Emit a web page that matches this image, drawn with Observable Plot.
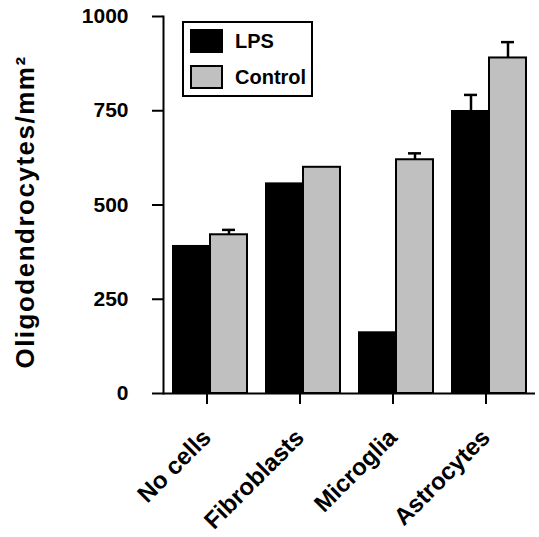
<!DOCTYPE html>
<html>
<head>
<meta charset="utf-8">
<script src="https://cdn.jsdelivr.net/npm/d3@7"></script>
<script src="https://cdn.jsdelivr.net/npm/@observablehq/plot@0.6"></script>
<style>
  html, body { margin: 0; padding: 0; background: #fff; }
  #wrap { position: relative; width: 539px; height: 537px; font-family: "Liberation Sans", Arial, sans-serif; }
  #legend { position: absolute; left: 182px; top: 21px; width: 127px; height: 72px; border: 2px solid #000; background: #fff;
            font-weight: bold; font-size: 20px; }
  .row { position: absolute; left: 6px; display: flex; align-items: center; }
  .sw { width: 29px; height: 20px; border: 2px solid #000; box-sizing: content-box; margin-right: 12px; }
</style>
</head>
<body>
<div id="wrap"></div>
<script>
const categories = ["No cells", "Fibroblasts", "Microglia", "Astrocytes"];
const series = ["LPS", "Control"];
const lpsValues = [390, 556, 161, 748];
const controlValues = [421, 600, 620, 890];
const lpsErrors = [0, 0, 0, 44];
const controlErrors = [13, 0, 17, 42];
const yTicks = [0, 250, 500, 750, 1000];
const colors = ["#000000", "#c0c0c0"];
const yLabel = "Oligodendrocytes/mm²";

const data = categories.flatMap((c, i) => [
  {category: c, series: "LPS", value: lpsValues[i], error: lpsErrors[i]},
  {category: c, series: "Control", value: controlValues[i], error: controlErrors[i]}
]);
const errData = data.filter(d => d.error > 0);

const plot = Plot.plot({
  width: 539,
  height: 537,
  marginLeft: 161,
  marginRight: 3,
  marginTop: 16,
  marginBottom: 144,
  style: {fontFamily: "'Liberation Sans', Arial, sans-serif", fontWeight: "bold", fontSize: "20px", color: "#000", background: "#fff"},
  fx: {domain: categories, padding: 0, label: null},
  x: {domain: series, paddingInner: 0, paddingOuter: 0.25, axis: null},
  y: {domain: [0, 1000], label: null},
  color: {domain: series, range: colors},
  marks: [
    Plot.barY(data, {fx: "category", x: "series", y: "value", fill: "series", stroke: "#000", strokeWidth: 2}),
    Plot.ruleX(errData, {fx: "category", x: "series", y1: "value", y2: d => d.value + d.error, stroke: "#000", strokeWidth: 2.5}),
    Plot.tickY(errData, {fx: "category", x: "series", y: d => d.value + d.error, stroke: "#000", strokeWidth: 2.5, insetLeft: 12, insetRight: 12}),
    Plot.ruleY([0], {stroke: "#000", strokeWidth: 2}),
    Plot.frame({anchor: "left", facetAnchor: "left", stroke: "#000", strokeWidth: 2}),
    Plot.axisY({ticks: yTicks, tickFormat: d3.format("d"), tickSize: 11, tickPadding: 24, strokeWidth: 2, fontSize: 21,
                label: yLabel, labelArrow: "none", labelAnchor: "center", labelOffset: 148}),
    Plot.axisFx({anchor: "bottom", tickSize: 11, tickRotate: -45, tickPadding: 29, dx: -3, strokeWidth: 2, fontSize: 24, label: null})
  ]
});

document.getElementById("wrap").appendChild(plot);

// legend from the color scale
const color = plot.scale("color");
const legend = document.createElement("div");
legend.id = "legend";
series.forEach((s, i) => {
  const row = document.createElement("div");
  row.className = "row";
  row.style.top = (6 + i * 36) + "px";
  const sw = document.createElement("div");
  sw.className = "sw";
  sw.style.background = color.apply(s);
  const t = document.createElement("span");
  t.textContent = s;
  row.appendChild(sw); row.appendChild(t);
  legend.appendChild(row);
});
document.getElementById("wrap").appendChild(legend);

// y-axis title font
d3.select(plot).selectAll('[aria-label="y-axis label"] text')
  .style("font-size", "26px")
  .style("letter-spacing", "1.5px")
  .attr("dx", -7);
</script>
</body>
</html>
